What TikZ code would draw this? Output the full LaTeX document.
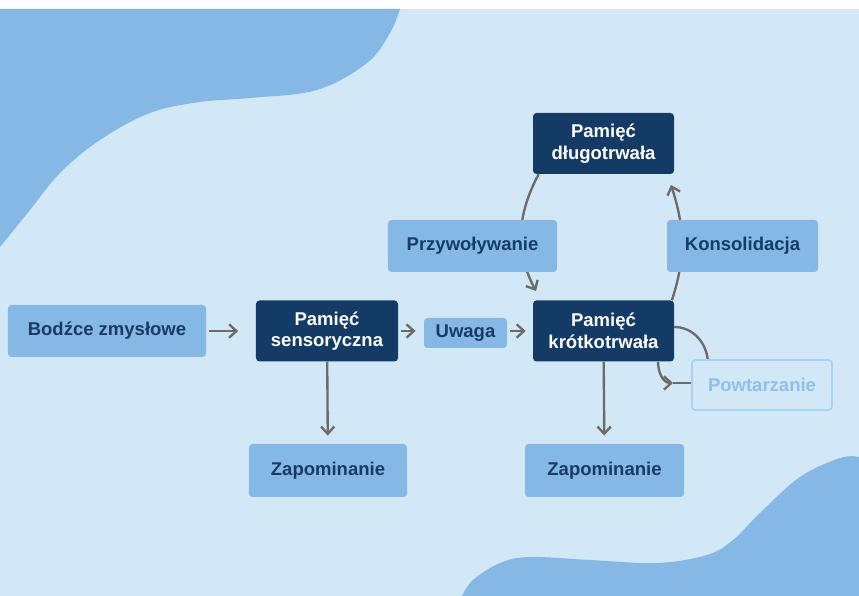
\documentclass[tikz,border=0pt]{standalone}
\usepackage{fontspec}
\setmainfont{Liberation Sans}
\usetikzlibrary{positioning, calc, arrows.meta}

\definecolor{bgblue}{HTML}{D3E8F7}
\definecolor{blobblue}{HTML}{85B8E4}
\definecolor{navy}{HTML}{143B66}
\definecolor{boxtext}{HTML}{163C66}
\definecolor{paleline}{HTML}{A9D1F3}
\definecolor{paletext}{HTML}{8DC0EB}
\definecolor{arrowgray}{HTML}{6B6B6B}

\begin{document}
\begin{tikzpicture}[
    x=0.03cm, y=0.03cm,
    % Block styles
    dark/.style={
      rectangle, rounded corners=3pt, fill=navy, text=white,
      minimum width=4.23cm, minimum height=1.83cm,
      font=\bfseries\fontsize{15.8}{18.5}\selectfont, align=center
    },
    light/.style={
      rectangle, rounded corners=3pt, fill=blobblue, text=boxtext,
      minimum width=4.74cm, minimum height=1.59cm,
      font=\bfseries\fontsize{15.8}{18.5}\selectfont, align=center
    },
    ghost/.style={
      rectangle, rounded corners=3pt, fill=bgblue, draw=paleline,
      line width=1.4pt, text=paletext,
      minimum width=4.2cm, minimum height=1.5cm,
      font=\bfseries\fontsize{15.8}{18.5}\selectfont, align=center
    },
    flow/.style={
      draw=arrowgray, line width=2pt,
      -{Straight Barb[length=2.2mm, width=4mm, line width=2pt]}
    },
    plain/.style={draw=arrowgray, line width=2pt},
  ]

  % === Background ===
  \fill[white] (0,0) rectangle (859,596);
  \fill[bgblue] (0,0) rectangle (859,587);
  \fill[blobblue] (0,587) -- (400,587)
    -- plot[smooth, tension=0.6] coordinates {(400,587) (390,563) (367,533) (317,506) (250,498) (200,494) (150,483) (100,456) (60,423) (30,386) (0,349)}
    -- cycle;
  \fill[blobblue] (859,0) -- (859,139)
    -- plot[smooth, tension=0.6] coordinates {(859,139) (840,138) (800,119) (760,83) (733,56) (707,41) (657,33) (590,36) (530,39) (500,33) (473,16) (462,0)}
    -- cycle;

  % === Loop arcs (behind the label boxes) ===
  \node[dark] (long) at (603.5,452.5) {Pamięć\\długotrwała};
  \node[dark] (short) at (603.5,265) {Pamięć\\krótkotrwała};
  \coordinate (recall) at (536,305);
  \coordinate (consol) at (671,411);
  \coordinate (loopout) at (658,234);
  \coordinate (loopin) at (708,232);
  \coordinate (rehearse) at (673,213);
  \draw[flow] ([xshift=5pt]long.south west) to[out=-118, in=118] (recall);
  \draw[flow] ([xshift=-2pt]short.north east) to[out=72, in=-72] (consol);
  \draw[plain] ([yshift=0.12cm]short.east) to[out=0, in=90] (loopin);
  \draw[flow] (loopout) to[out=-90, in=180] (rehearse);

  % === Main row ===
  \node[light, minimum width=5.94cm, minimum height=1.56cm] (input) at (107,265) {Bodźce zmysłowe};
  \node[dark, minimum width=4.26cm] (sensory) at (327,265) {Pamięć\\sensoryczna};
  \node[light, minimum width=2.49cm, minimum height=0.9cm] (attn) at (465.5,263) {Uwaga};

  % Label boxes on the loop
  \node[light, minimum width=5.07cm, minimum height=1.56cm] (przyw) at (472.5,350) {Przywoływanie};
  \node[light, minimum width=4.53cm, minimum height=1.56cm] (konsol) at (742.5,350) {Konsolidacja};
  \node[ghost] (powt) at (762,211) {Powtarzanie};
  \draw[plain] (rehearse) -- (powt.west |- rehearse);

  % Forgetting
  \node[light] (forget1) at (328,125.5) {Zapominanie};
  \node[light, minimum width=4.77cm] (forget2) at (604.5,125.5) {Zapominanie};

  % === Connectors ===
  \draw[flow, shorten <=2pt, shorten >=15pt] (input) -- (sensory);
  \draw[flow, shorten <=2pt, shorten >=7pt] (sensory.east) -- (attn.west |- sensory.east);
  \draw[flow, shorten <=2pt, shorten >=6pt] (attn.east |- short.west) -- (short.west);
  \draw[flow, shorten >=7pt] (sensory) -- (forget1);
  \draw[flow, shorten >=7pt] (short) -- (forget2);

\end{tikzpicture}
\end{document}
